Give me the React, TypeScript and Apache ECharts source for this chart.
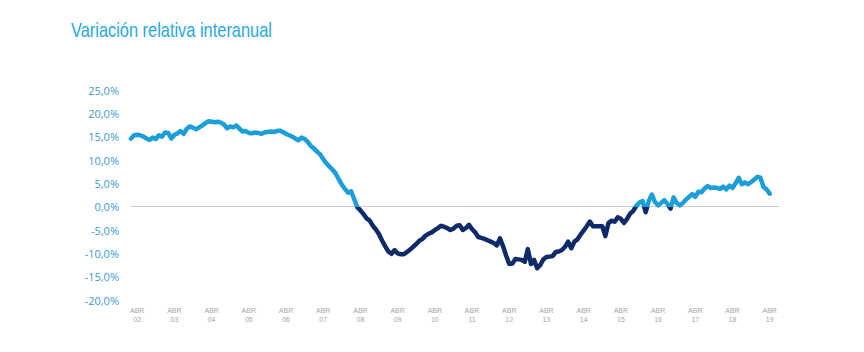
import React, { useEffect, useRef } from "react";
import * as echarts from "echarts";

// Monthly year-on-year variation (%), Feb 2002 .. Apr 2019
const values2002 = [14.6, 15.3, 15.4, 15.3, 15.0, 14.6, 14.3, 14.8, 14.5, 15.3, 15.0]; // Feb-Dec
const values2003 = [15.9, 15.8, 14.6, 15.4, 15.7, 16.2, 15.6, 16.7, 17.2, 16.9, 16.6, 17.0];
const values2004 = [17.4, 17.9, 18.3, 18.2, 18.1, 18.2, 18.0, 17.6, 16.8, 17.2, 17.0, 17.4];
const values2005 = [16.7, 16.1, 16.2, 15.8, 15.7, 15.9, 15.8, 15.6, 15.9, 16.0, 16.1, 16.0];
const values2006 = [16.2, 16.3, 16.0, 15.6, 15.3, 15.0, 14.6, 14.2, 14.8, 14.5, 13.9, 13.0];
const values2007 = [12.5, 11.8, 11.2, 10.2, 9.3, 8.6, 7.9, 7.1, 5.9, 4.7, 3.8, 3.0];
const values2008 = [3.3, 1.6, -0.1, -0.8, -1.6, -2.5, -3.0, -4.1, -4.9, -5.9, -7.3, -8.5];
const values2009 = [-9.6, -10.1, -9.3, -10.0, -10.2, -10.2, -9.7, -9.2, -8.6, -8.0, -7.3, -6.9];
const values2010 = [-6.2, -5.8, -5.5, -5.0, -4.6, -4.1, -4.3, -4.6, -5.0, -4.7, -4.1, -4.0];
const values2011 = [-5.0, -4.6, -3.9, -4.8, -5.5, -6.5, -6.7, -6.9, -7.2, -7.5, -7.8, -8.3];
const values2012 = [-6.8, -8.5, -10.5, -12.3, -12.2, -11.2, -11.3, -11.4, -11.8, -9.1, -12.3, -11.4];
const values2013 = [-13.2, -12.5, -11.3, -10.8, -10.7, -10.6, -9.7, -9.6, -9.3, -8.6, -7.5, -8.9];
const values2014 = [-7.5, -7.0, -6.0, -5.1, -4.2, -3.2, -4.2, -4.2, -4.2, -4.2, -6.3, -3.5];
const values2015 = [-3.0, -3.2, -2.3, -2.6, -3.5, -2.6, -1.5, -0.9, 0.2, 0.9, 1.2, -1.2];
const values2016 = [1.2, 2.6, 1.0, 0.3, 0.8, 1.4, 0.6, -0.4, 2.0, 0.8, 0.3, 0.8];
const values2017 = [1.5, 2.1, 2.7, 2.1, 3.2, 3.1, 3.9, 4.4, 4.0, 4.1, 4.0, 3.8];
const values2018 = [4.3, 3.7, 4.5, 4.0, 5.0, 6.2, 4.8, 5.2, 4.8, 5.3, 5.8, 6.4];
const values2019 = [6.2, 4.2, 3.7, 2.8]; // Jan-Apr

const tickYears = ["02", "03", "04", "05", "06", "07", "08", "09", "10", "11", "12", "13", "14", "15", "16", "17", "18", "19"];
const tickMonthLabel = "ABR";
const yTicks = [-20, -15, -10, -5, 0, 5, 10, 15, 20, 25];
const titleText = "Variación relativa interanual";

const allValues = [
  ...values2002, ...values2003, ...values2004, ...values2005, ...values2006,
  ...values2007, ...values2008, ...values2009, ...values2010, ...values2011,
  ...values2012, ...values2013, ...values2014, ...values2015, ...values2016,
  ...values2017, ...values2018, ...values2019,
];

// categories: Feb 2002 .. Jul 2019 (axis extends a few months past the data)
const categories: string[] = [];
for (let y = 2002; y <= 2019; y++) {
  for (let m = 1; m <= 12; m++) {
    if (y === 2002 && m < 2) continue;
    if (y === 2019 && m > 7) continue;
    categories.push(`${y}-${String(m).padStart(2, "0")}`);
  }
}

const LIGHT = "#1c9fd9";
const DARK = "#0f2a68";

export default function App() {
  const ref = useRef<HTMLDivElement>(null);
  useEffect(() => {
    document.body.style.margin = "0";
    const chart = echarts.init(ref.current!, null, { renderer: "svg" });
    const splitColors = yTicks.map((t) => (t === 0 ? "#c9c9c9" : "rgba(0,0,0,0)"));
    const seriesData = allValues.map((v, i) => [categories[i], v]);
    chart.setOption({
      animation: false,
      backgroundColor: "#ffffff",
      graphic: [
        {
          type: "text",
          x: 71,
          y: 20,
          scaleX: 0.82,
          style: {
            text: titleText,
            fontFamily: "Liberation Sans",
            fontSize: 20,
            fill: "#29a8df",
          },
        },
      ],
      grid: { left: 131, right: 85, top: 90, bottom: 52, containLabel: false },
      xAxis: {
        type: "category",
        data: categories,
        boundaryGap: false,
        axisLine: { show: false },
        axisTick: { show: false },
        axisLabel: {
          interval: 0,
          formatter: (value: string) => {
            const yy = value.slice(2, 4);
            const mm = value.slice(5, 7);
            return mm === "04" && tickYears.includes(yy) ? `${tickMonthLabel}\n${yy}` : "";
          },
          color: "#a6a6a6",
          fontSize: 7,
          lineHeight: 9,
          margin: 6,
          fontFamily: "Liberation Sans",
        },
        splitLine: { show: false },
      },
      yAxis: {
        type: "value",
        min: -20,
        max: 25,
        interval: 5,
        axisLine: { show: false },
        axisTick: { show: false },
        axisLabel: {
          formatter: (v: number) => v.toFixed(1).replace(".", ",") + "%",
          color: "#3b9bd2",
          fontSize: 11,
          margin: 12,
          fontFamily: "Open Sans",
        },
        splitLine: { show: true, lineStyle: { color: splitColors, width: 1 } },
      },
      visualMap: {
        type: "piecewise",
        show: false,
        dimension: 1,
        seriesIndex: 0,
        pieces: [
          { min: -100, max: 0, color: DARK },
          { min: 0, max: 100, color: LIGHT },
        ],
        outOfRange: { color: LIGHT },
      },
      series: [
        {
          type: "line",
          data: seriesData,
          symbol: "none",
          smooth: false,
          lineStyle: { width: 4.5, join: "round", cap: "round" },
        },
      ],
    });
    return () => chart.dispose();
  }, []);
  return <div ref={ref} style={{ width: 864, height: 352 }} />;
}
